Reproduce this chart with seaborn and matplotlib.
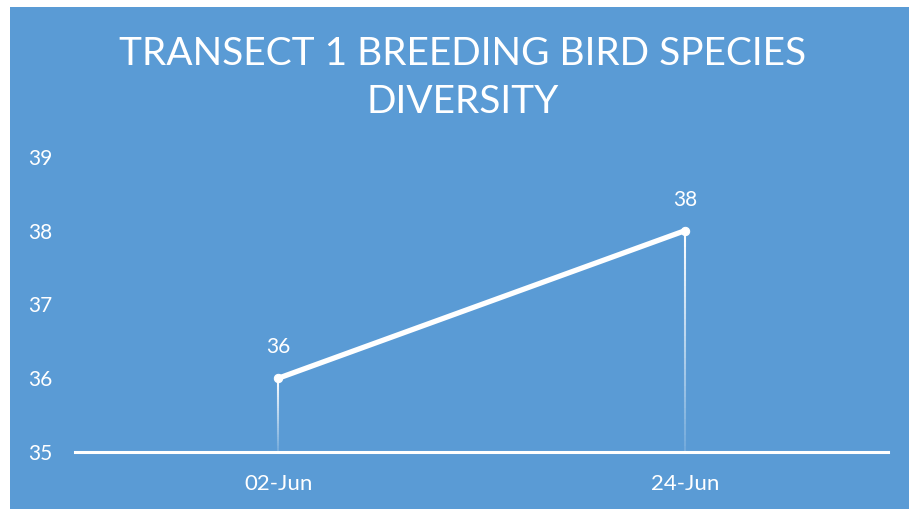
import matplotlib.pyplot as plt
import matplotlib.patches as mpatches
from matplotlib.collections import LineCollection
import numpy as np
import pandas as pd
import seaborn as sns

dates = ["02-Jun", "24-Jun"]
species = [36, 38]

title = "TRANSECT 1 BREEDING BIRD SPECIES\nDIVERSITY"
yticks = [35, 36, 37, 38, 39]

blue = "#5A9BD5"

sns.set_theme(style="white")
plt.rcParams['font.family'] = ['Lato', 'DejaVu Sans']

fig = plt.figure(figsize=(9.09, 5.09), dpi=100, facecolor="white")
# blue chart panel (white margin at top/left)
fig.patches.append(mpatches.Rectangle((10 / 909, 0), 1, 1 - 7 / 509, transform=fig.transFigure,
                                      facecolor=blue, edgecolor="none", zorder=-5))
ax = fig.add_axes([75 / 909, 57 / 509, 813 / 909, 295 / 509])
ax.set_facecolor(blue)

df = pd.DataFrame({"Date": dates, "Species": species})
sns.lineplot(data=df, x="Date", y="Species", ax=ax, color="white", linewidth=3.8,
             marker="o", markersize=6, markeredgecolor="white", solid_capstyle="round", zorder=3)

# fading drop lines from each point to the axis
for i, v in enumerate(species):
    n = 40
    ys = np.linspace(v, yticks[0], n + 1)
    segs = [[(i, ys[k]), (i, ys[k + 1])] for k in range(n)]
    alphas = np.linspace(1.0, 0.15, n)
    cols = [(1, 1, 1, a) for a in alphas]
    ax.add_collection(LineCollection(segs, colors=cols, linewidths=1.5, zorder=1))
    ax.annotate(str(v), (i, v), xytext=(0, 15), textcoords="offset points",
                ha="center", va="bottom", color="white", fontsize=15)

ax.set_xlim(-0.5, 1.5)
ax.set_ylim(35, 39)
ax.set_yticks(yticks)
ax.set_xlabel("")
ax.set_ylabel("")
for s in ["top", "right", "left"]:
    ax.spines[s].set_visible(False)
ax.spines["bottom"].set_color("white")
ax.spines["bottom"].set_linewidth(2.2)
ax.tick_params(axis="both", length=0, colors="white", labelsize=15)
ax.tick_params(axis="y", pad=16)
ax.tick_params(axis="x", pad=16)
ax.set_xticks(range(len(dates)))
ax.set_xticklabels(dates, fontsize=16)

fig.text(463 / 909, 1 - 78 / 509, title, ha="center", va="center", color="white",
         fontsize=28, linespacing=1.4)

fig.savefig("out.png", dpi=100, facecolor="white")
